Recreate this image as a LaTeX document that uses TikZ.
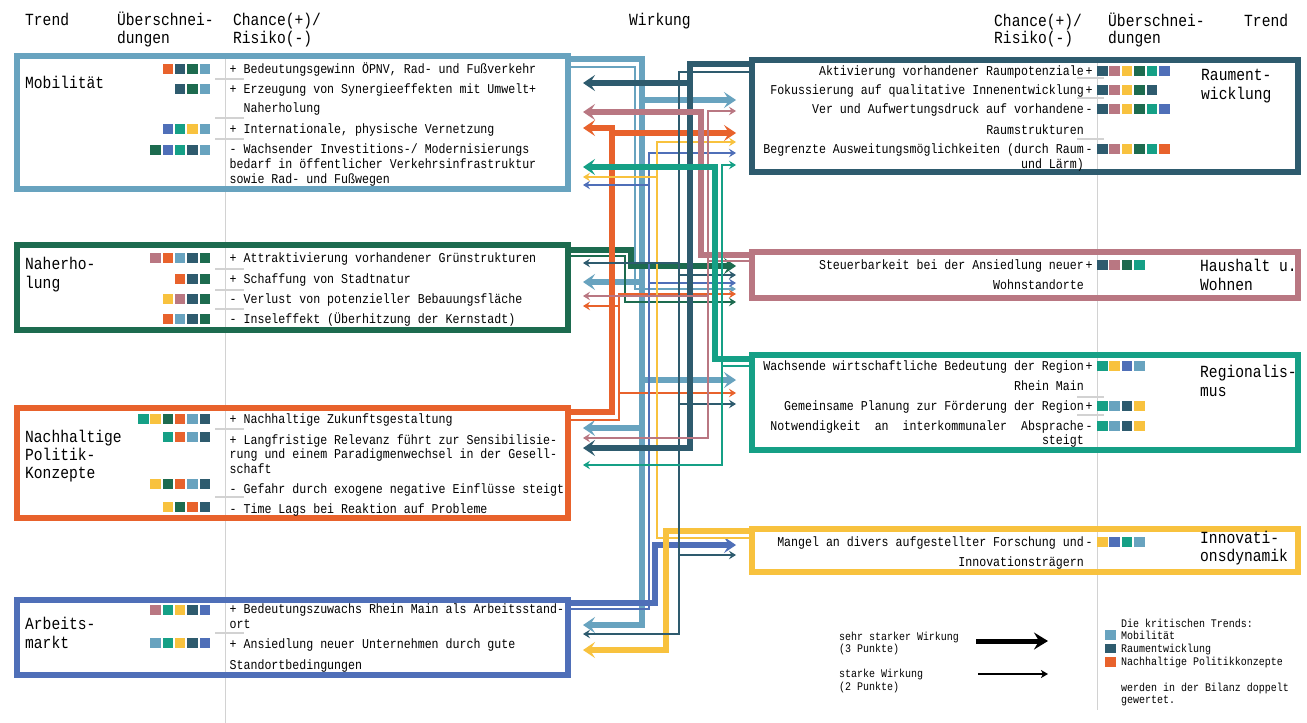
\documentclass[tikz,border=0pt]{standalone}
\usepackage{fontspec}
\newfontfamily\mono[FakeStretch=0.86]{Liberation Mono}
\usetikzlibrary{arrows.meta}
\definecolor{cLbl}{HTML}{68A3BF}
\definecolor{cSla}{HTML}{2E5B6E}
\definecolor{cGrn}{HTML}{1D6B4F}
\definecolor{cOra}{HTML}{E8622C}
\definecolor{cBlu}{HTML}{4F6FB8}
\definecolor{cMau}{HTML}{B97782}
\definecolor{cTea}{HTML}{15A086}
\definecolor{cYel}{HTML}{F8C23E}
\definecolor{cGry}{HTML}{D2D2D2}
\newcommand\sqL[3]{\foreach \cc [count=\ii] in {#3}{\fill[\cc] ({210-(#2-\ii+1)*12.3+1.8},#1-4.8) rectangle ++(10.5,9.6);}}
\newcommand\sqR[2]{\foreach \cc [count=\ii] in {#2}{\fill[\cc] ({1097+(\ii-1)*12.4},#1-4.8) rectangle ++(10.5,9.6);}}
\begin{document}
\begin{tikzpicture}[x=1pt,y=-1pt,
  trendbox/.style={draw=#1, line width=5.5pt, inner sep=0pt, outer sep=0pt, anchor=north west},
  tx/.style={anchor=base west, inner sep=0pt, font=\mono\fontsize{13.5}{15}\selectfont},
  txr/.style={anchor=base east, inner sep=0pt, font=\mono\fontsize{13.5}{15}\selectfont},
  sg/.style={anchor=base, inner sep=0pt, font=\mono\fontsize{13.5}{15}\selectfont},
  ttl/.style={anchor=base west, inner sep=0pt, font=\mono\fontsize{17}{19}\selectfont},
  lg/.style={anchor=base west, inner sep=0pt, font=\mono\fontsize{11.6}{13}\selectfont},
  thk/.style={line width=5.5pt, -{Stealth[length=12pt,width=16pt,inset=5pt]}},
  thn/.style={line width=2.4pt, -{Stealth[length=7pt,width=8.5pt,inset=2.5pt]}},
  tol/.style={shorten >=15pt},
  tor/.style={shorten >=16pt},
  sep/.style={cGry, line width=1.1pt}
]
\fill[white] (0,0) rectangle (1307,723);
\useasboundingbox (0,0) rectangle (1307,723);

% guide lines
\draw[cGry,line width=0.9pt] (225,56) -- (225,723);
\draw[cGry,line width=0.9pt] (1097,60) -- (1097,710);
\foreach \y in {79,118,139,189,269,290,309,330,429,497,633,675} \draw[sep] (215,\y) -- (244,\y);
\foreach \y in {78,98,139,173,397,415,448} \draw[sep] (1077,\y) -- (1104,\y);

% boxes
\node[trendbox=cLbl, minimum width=551pt, minimum height=133pt] (mob) at (17,56) {};
\node[trendbox=cGrn, minimum width=551pt, minimum height=85pt] (nah) at (17,245) {};
\node[trendbox=cOra, minimum width=551pt, minimum height=110pt] (pol) at (17,408) {};
\node[trendbox=cBlu, minimum width=551pt, minimum height=75pt] (arb) at (17,600) {};
\node[trendbox=cSla, minimum width=546pt, minimum height=112pt] (rau) at (752,60) {};
\node[trendbox=cMau, minimum width=546pt, minimum height=46pt] (hau) at (752,252) {};
\node[trendbox=cTea, minimum width=546pt, minimum height=95pt] (reg) at (752,355) {};
\node[trendbox=cYel, minimum width=546pt, minimum height=43pt] (inn) at (752,529) {};

% connectors: Mobilitaet
\draw[thn,cLbl,tor] (mob.east |- 0,67) -| (635,289) -- (hau.west |- 0,289);
\draw[thk,cLbl,tor] (mob.east |- 0,59) -| (642,100) -- (rau.west |- 0,100);
\draw[thk,cLbl,tol] (mob.east |- 0,59) -| (642,282) -- (nah.east |- 0,282);
\draw[thk,cLbl,tor] (mob.east |- 0,59) -| (642,380) -- (reg.west |- 0,380);
\draw[thk,cLbl,tol] (mob.east |- 0,59) -| (642,428) -- (pol.east |- 0,428);
\draw[thk,cLbl,tol] (mob.east |- 0,59) -| (642,625) -- (arb.east |- 0,625);
% Naherholung
\draw[thn,cGrn,tor] (nah.east |- 0,256) -| (625,302) -- (hau.west |- 0,302);
\draw[thk,cGrn,tor] (nah.east |- 0,250) -| (631,266) -- (hau.west |- 0,266);
% Politik
\draw[thn,cOra,tor] (pol.east |- 0,420) -| (619,294) -- (hau.west |- 0,294);
\draw[thn,cOra,tol] (pol.east |- 0,420) -| (619,306) -- (nah.east |- 0,306);
\draw[thn,cOra,tor] (pol.east |- 0,420) -| (619,393) -- (reg.west |- 0,393);
\draw[thk,cOra,tol] (pol.east |- 0,412) -| (612,128) -- (mob.east |- 0,128);
\draw[thk,cOra,tor] (pol.east |- 0,412) -| (612,133) -- (rau.west |- 0,133);
% Arbeitsmarkt
\draw[thn,cBlu,tor] (arb.east |- 0,609) -| (649,153) -- (rau.west |- 0,153);
\draw[thn,cBlu,tol] (arb.east |- 0,609) -| (649,185) -- (mob.east |- 0,185);
\draw[thn,cBlu,tor] (arb.east |- 0,609) -| (649,283) -- (hau.west |- 0,283);
\draw[thk,cBlu,tor] (arb.east |- 0,603) -| (655,545) -- (inn.west |- 0,545);
% Innovation
\draw[thn,cYel,tor] (inn.west |- 0,538) -| (657,142) -- (rau.west |- 0,142);
\draw[thn,cYel,tol] (inn.west |- 0,538) -| (657,177) -- (mob.east |- 0,177);
\draw[thk,cYel,tol] (inn.west |- 0,531) -| (666,650) -- (arb.east |- 0,650);
% Raumentwicklung
\draw[thn,cSla,tol] (rau.west |- 0,72) -| (679,263) -- (nah.east |- 0,263);
\draw[thn,cSla,tor] (rau.west |- 0,72) -| (679,275) -- (hau.west |- 0,275);
\draw[thn,cSla,tor] (rau.west |- 0,72) -| (679,404) -- (reg.west |- 0,404);
\draw[thn,cSla,tor] (rau.west |- 0,72) -| (679,555) -- (inn.west |- 0,555);
\draw[thn,cSla,tol] (rau.west |- 0,72) -| (679,634) -- (arb.east |- 0,634);
\draw[thk,cSla,tol] (rau.west |- 0,64) -| (690,83) -- (mob.east |- 0,83);
\draw[thk,cSla,tol] (rau.west |- 0,64) -| (690,448) -- (pol.east |- 0,448);
% Haushalt
\draw[thn,cMau,tor] (hau.west |- 0,261) -| (708,111) -- (rau.west |- 0,111);
\draw[thn,cMau,tol] (hau.west |- 0,261) -| (708,296) -- (nah.east |- 0,296);
\draw[thn,cMau,tol] (hau.west |- 0,261) -| (708,438) -- (pol.east |- 0,438);
\draw[thk,cMau,tol] (hau.west |- 0,255) -| (701,112) -- (mob.east |- 0,112);
% Regionalismus
\draw[thn,cTea,tor] (reg.west |- 0,366) -| (722,165) -- (rau.west |- 0,165);
\draw[thn,cTea,tol] (reg.west |- 0,366) -| (722,465) -- (pol.east |- 0,465);
\draw[thk,cTea,tol] (reg.west |- 0,359) -| (715,167) -- (mob.east |- 0,167);

% headers
\node[ttl] (h1) at (25,25.5) {Trend};
\node[ttl] (h2) at (117,25.5) {Überschnei-};
\node[ttl] (h3) at (117,43.5) {dungen};
\node[ttl] (h4) at (233,25.5) {Chance(+)/};
\node[ttl] (h5) at (233,43.5) {Risiko(-)};
\node[ttl] (h6) at (629,25.5) {Wirkung};
\node[ttl] (h7) at (994,26.5) {Chance(+)/};
\node[ttl] (h8) at (994,43.5) {Risiko(-)};
\node[ttl] (h9) at (1108,26.5) {Überschnei-};
\node[ttl] (h10) at (1108,43.5) {dungen};
\node[ttl] (h11) at (1244,26.5) {Trend};

% trend names
\node[ttl] (nm1) at (25,88.5) {Mobilität};
\node[ttl] (nm2) at (25,269.5) {Naherho-};
\node[ttl] (nm3) at (25,288) {lung};
\node[ttl] (nm4) at (25,442.5) {Nachhaltige};
\node[ttl] (nm5) at (25,460.5) {Politik-};
\node[ttl] (nm6) at (25,478.5) {Konzepte};
\node[ttl] (nm7) at (25,629.5) {Arbeits-};
\node[ttl] (nm8) at (25,648) {markt};
\node[ttl] (nm9) at (1201,80.5) {Raument-};
\node[ttl] (nm10) at (1201,99) {wicklung};
\node[ttl] (nm11) at (1200,271.5) {Haushalt u.};
\node[ttl] (nm12) at (1200,290.5) {Wohnen};
\node[ttl] (nm13) at (1200,377.5) {Regionalis-};
\node[ttl] (nm14) at (1200,396.5) {mus};
\node[ttl] (nm15) at (1200,543.5) {Innovati-};
\node[ttl] (nm16) at (1200,561.5) {onsdynamik};

% left texts
\node[tx] (m1) at (229.5,73) {+ Bedeutungsgewinn ÖPNV, Rad- und Fußverkehr};
\node[tx] (m2) at (229.5,93) {+ Erzeugung von Synergieeffekten mit Umwelt+};
\node[tx] (m3) at (243.5,112) {Naherholung};
\node[tx] (m4) at (229.5,133) {+ Internationale, physische Vernetzung};
\node[tx] (m5) at (229.5,153) {- Wachsender Investitions-/ Modernisierungs};
\node[tx] (m6) at (229.5,168) {bedarf in öffentlicher Verkehrsinfrastruktur};
\node[tx] (m7) at (229.5,183) {sowie Rad- und Fußwegen};
\node[tx] (n1) at (229.5,262) {+ Attraktivierung vorhandener Grünstrukturen};
\node[tx] (n2) at (229.5,283) {+ Schaffung von Stadtnatur};
\node[tx] (n3) at (229.5,303) {- Verlust von potenzieller Bebauungsfläche};
\node[tx] (n4) at (229.5,323) {- Inseleffekt (Überhitzung der Kernstadt)};
\node[tx] (p1) at (229.5,423) {+ Nachhaltige Zukunftsgestaltung};
\node[tx] (p2) at (229.5,444) {+ Langfristige Relevanz führt zur Sensibilisie-};
\node[tx] (p3) at (229.5,458) {rung und einem Paradigmenwechsel in der Gesell-};
\node[tx] (p4) at (229.5,473) {schaft};
\node[tx] (p5) at (229.5,493) {- Gefahr durch exogene negative Einflüsse steigt};
\node[tx] (p6) at (229.5,513) {- Time Lags bei Reaktion auf Probleme};
\node[tx] (a1) at (229.5,613) {+ Bedeutungszuwachs Rhein Main als Arbeitsstand-};
\node[tx] (a2) at (229.5,628) {ort};
\node[tx] (a3) at (229.5,648) {+ Ansiedlung neuer Unternehmen durch gute};
\node[tx] (a4) at (229.5,669) {Standortbedingungen};

% right texts
\node[txr] (r1) at (1084,75) {Aktivierung vorhandener Raumpotenziale};
\node[txr] (r2) at (1084,94) {Fokussierung auf qualitative Innenentwicklung};
\node[txr] (r3) at (1084,113) {Ver und Aufwertungsdruck auf vorhandene};
\node[txr] (r4) at (1084,134) {Raumstrukturen};
\node[txr] (r5) at (1084,153) {Begrenzte Ausweitungsmöglichkeiten (durch Raum};
\node[txr] (r6) at (1084,168) {und Lärm)};
\node[txr] (w1) at (1084,269) {Steuerbarkeit bei der Ansiedlung neuer};
\node[txr] (w2) at (1084,289) {Wohnstandorte};
\node[txr] (g1) at (1084,370) {Wachsende wirtschaftliche Bedeutung der Region};
\node[txr] (g2) at (1084,390) {Rhein Main};
\node[txr] (g3) at (1084,410) {Gemeinsame Planung zur Förderung der Region};
\node[txr] (g4) at (1084,430) {Notwendigkeit\ \ an\ \ interkommunaler\ \ Absprache};
\node[txr] (g5) at (1084,444) {steigt};
\node[txr] (i1) at (1084,546) {Mangel an divers aufgestellter Forschung und};
\node[txr] (i2) at (1084,566) {Innovationsträgern};
\node[sg] (s1) at (1089,75) {+};
\node[sg] (s2) at (1089,94) {+};
\node[sg] (s3) at (1089,113) {-};
\node[sg] (s4) at (1089,153) {-};
\node[sg] (s5) at (1089,269) {+};
\node[sg] (s6) at (1089,370) {+};
\node[sg] (s7) at (1089,410) {+};
\node[sg] (s8) at (1089,430) {-};
\node[sg] (s9) at (1089,546) {-};

% squares left
\sqL{69}{4}{cOra,cSla,cGrn,cLbl}
\sqL{89}{3}{cSla,cGrn,cLbl}
\sqL{129}{4}{cBlu,cTea,cYel,cLbl}
\sqL{150}{5}{cGrn,cBlu,cTea,cSla,cLbl}
\sqL{258}{5}{cMau,cOra,cLbl,cSla,cGrn}
\sqL{279}{3}{cOra,cSla,cGrn}
\sqL{299}{4}{cYel,cMau,cSla,cGrn}
\sqL{319}{4}{cOra,cLbl,cSla,cGrn}
\sqL{419}{6}{cTea,cYel,cGrn,cOra,cLbl,cSla}
\sqL{437}{4}{cTea,cOra,cLbl,cSla}
\sqL{484}{5}{cYel,cGrn,cOra,cLbl,cSla}
\sqL{507}{4}{cYel,cGrn,cOra,cSla}
\sqL{610}{5}{cMau,cTea,cYel,cSla,cBlu}
\sqL{643}{5}{cLbl,cTea,cYel,cSla,cBlu}
% squares right
\sqR{71}{cSla,cMau,cYel,cGrn,cTea,cBlu}
\sqR{90}{cSla,cMau,cYel,cGrn,cSla}
\sqR{109}{cSla,cMau,cYel,cGrn,cTea,cBlu}
\sqR{149}{cSla,cMau,cYel,cGrn,cTea,cOra}
\sqR{265}{cSla,cMau,cGrn,cTea}
\sqR{366}{cTea,cYel,cBlu,cLbl}
\sqR{406}{cTea,cLbl,cSla,cYel}
\sqR{426}{cTea,cLbl,cSla,cYel}
\sqR{542}{cYel,cBlu,cTea,cLbl}

% legend
\node[lg] (l1) at (839,640.5) {sehr starker Wirkung};
\node[lg] (l2) at (839,652.5) {(3 Punkte)};
\node[lg] (l3) at (839,677.5) {starke Wirkung};
\node[lg] (l4) at (839,690.5) {(2 Punkte)};
\coordinate (lgA1) at (976,641);
\coordinate (lgA2) at (1048,641);
\coordinate (lgB1) at (978,674);
\coordinate (lgB2) at (1048,674);
\draw[black,line width=5pt,-{Stealth[length=14pt,width=17pt,inset=5pt]}] (lgA1) -- (lgA2);
\draw[black,line width=2pt,-{Stealth[length=7pt,width=8pt,inset=2pt]}] (lgB1) -- (lgB2);
\fill[cLbl] (1105,630) rectangle (1115.5,639.5);
\fill[cSla] (1105,643.5) rectangle (1115.5,653);
\fill[cOra] (1105,657) rectangle (1115.5,666.5);
\node[lg] (k1) at (1121,627.5) {Die kritischen Trends:};
\node[lg] (k2) at (1121,639.5) {Mobilität};
\node[lg] (k3) at (1121,652.5) {Raumentwicklung};
\node[lg] (k4) at (1121,665.5) {Nachhaltige Politikkonzepte};
\node[lg] (k5) at (1121,691.5) {werden in der Bilanz doppelt};
\node[lg] (k6) at (1121,703.5) {gewertet.};
\end{tikzpicture}
\end{document}
